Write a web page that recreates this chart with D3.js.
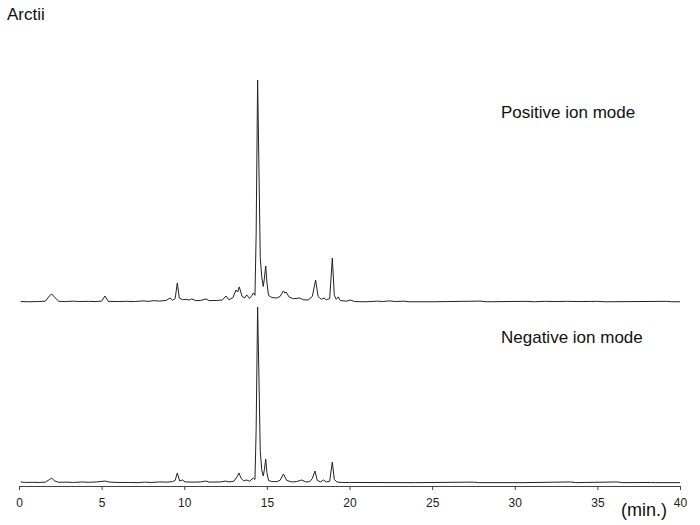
<!DOCTYPE html>
<html>
<head>
<meta charset="utf-8">
<script src="https://cdn.jsdelivr.net/npm/d3@7"></script>
<style>
html,body{margin:0;padding:0;background:#fff;}
svg{display:block;}
</style>
</head>
<body>
<svg id="c" width="700" height="525"></svg>
<script>
// Retention time (min) / relative intensity (%)
const positiveTime = [0.1,0.6,1.2,1.6,1.85,1.98,2.15,2.4,2.8,3.3,3.6,4.2,4.6,5.0,5.2,5.4,6.0,6.5,7.0,7.5,7.8,8.2,8.5,8.9,9.14,9.3,9.45,9.58,9.7,9.9,10.1,10.3,10.45,10.7,11.0,11.32,11.5,12.0,12.3,12.53,12.7,12.95,13.13,13.23,13.33,13.5,13.65,13.78,13.95,14.1,14.18,14.28,14.35,14.44,14.52,14.6,14.69,14.78,14.84,14.93,15.0,15.1,15.3,15.6,15.8,16.0,16.1,16.16,16.35,16.6,17.0,17.2,17.5,17.75,17.95,18.1,18.3,18.46,18.6,18.8,18.96,19.08,19.2,19.32,19.45,19.8,20.07,20.3,21,21.7,22,22.4,22.8,23.3,23.6,25,27.9,28.3,30.7,31.2,31.8,32.5,33.2,34,35,35.5,39.2,39.5,40];
const positiveIntensity = [0.2,0.1,0.2,0.4,2.8,3.6,2.2,0.3,0.2,0.4,0.2,0.3,0.2,0.4,2.7,0.3,0.2,0.3,0.2,0.5,0.3,0.6,0.4,0.7,1.8,0.8,1.5,8.6,1.8,1.0,1.2,0.9,1.4,0.6,0.7,1.4,0.6,0.7,0.9,2.7,1.0,2.0,5.4,4.5,6.8,2.5,1.8,3.2,1.6,3.0,4.1,3.0,30,100,60,20,11.3,7,10,16.2,9,3,2,1.8,2.5,5.0,4.0,4.5,2.2,1.5,1.8,1.0,0.9,2.5,9.9,2.5,1.2,1.8,1.0,1.5,19.8,3,1.2,2.3,0.6,0.4,0.9,0.2,0.1,0.4,0.2,0.5,0.2,0.4,0.1,0.1,0.4,0.1,0.3,0.1,0.3,0.2,0.3,0.2,0.3,0.1,0.3,0.1,0.1];

const negativeTime = [0.1,0.4,0.8,1.2,1.6,1.85,1.98,2.15,2.4,2.9,3.3,3.8,4.2,4.7,5.2,5.5,6.0,6.6,7.2,7.6,8.0,8.5,9.0,9.3,9.45,9.58,9.72,9.9,10.05,10.5,11.0,11.3,11.5,12.2,12.5,12.7,13.0,13.2,13.31,13.45,13.6,13.78,13.95,14.1,14.18,14.28,14.35,14.44,14.52,14.6,14.69,14.78,14.84,14.93,15.0,15.1,15.3,15.6,15.8,16.0,16.2,16.5,16.8,17.1,17.35,17.6,17.75,17.91,18.05,18.25,18.42,18.6,18.8,18.96,19.08,19.25,19.6,20,24,27.5,27.8,30.5,33.4,33.7,34.2,36.2,36.5,38.2,38.5,40];
const negativeIntensity = [0.6,0.3,0.4,0.3,0.5,2.0,2.8,1.2,0.4,0.5,0.3,0.6,0.4,0.6,1.1,0.5,0.3,0.3,0.2,0.5,0.3,0.6,0.5,0.8,1.5,5.7,1.2,1.7,0.6,0.5,0.6,1.1,0.5,0.6,1.1,0.6,1.0,3.5,5.7,2.5,1.2,1.7,1.0,2.2,2.8,2.0,30,100,60,18,7.4,4,7,13.6,6,1.5,0.8,0.8,1.5,5.1,1.5,0.6,0.8,1.7,0.6,0.8,2.5,6.8,1.5,0.6,1.7,0.6,1.0,11.9,2,0.5,0.3,0.3,0.2,0.5,0.2,0.2,0.6,0.2,0.3,0.6,0.2,0.3,0.2,0.2];

const xTicks = [0,5,10,15,20,25,30,35,40];
const title = "Arctii";
const positiveLabel = "Positive ion mode";
const negativeLabel = "Negative ion mode";
const unitLabel = "(min.)";

const svg = d3.select("#c");
const x = d3.scaleLinear().domain([0,40]).range([19,680]);
const yPos = d3.scaleLinear().domain([0,100]).range([302,80]);
const yNeg = d3.scaleLinear().domain([0,100]).range([483,307]);

const posData = positiveTime.map((t,i)=>[t,positiveIntensity[i]]);
const negData = negativeTime.map((t,i)=>[t,negativeIntensity[i]]);

svg.append("path").datum(posData)
  .attr("d", d3.line().x(d=>x(d[0])).y(d=>yPos(d[1])))
  .attr("fill","none").attr("stroke","#222").attr("stroke-width",1);
svg.append("path").datum(negData)
  .attr("d", d3.line().x(d=>x(d[0])).y(d=>yNeg(d[1])))
  .attr("fill","none").attr("stroke","#222").attr("stroke-width",1);

const ax = svg.append("g").attr("transform","translate(0,486)")
  .call(d3.axisBottom(x).tickValues(xTicks).tickSize(4).tickSizeOuter(0).tickPadding(8));
ax.select(".domain").attr("stroke","#444");
ax.selectAll(".tick line").attr("stroke","#444");
ax.selectAll(".tick text").attr("fill","#222")
  .style("font-family","'Liberation Sans Narrow','Arial Narrow','Liberation Sans',sans-serif")
  .style("font-size","12px");

const txt = (s,xx,yy,size)=>svg.append("text").attr("x",xx).attr("y",yy)
  .attr("fill","#111").style("font-family","'Liberation Sans',Arial,sans-serif")
  .style("font-size",size+"px").text(s);
txt(title,7,20,17);
txt(positiveLabel,501,118,17);
txt(negativeLabel,501,343,17);
txt(unitLabel,621,516,18);
</script>
</body>
</html>
